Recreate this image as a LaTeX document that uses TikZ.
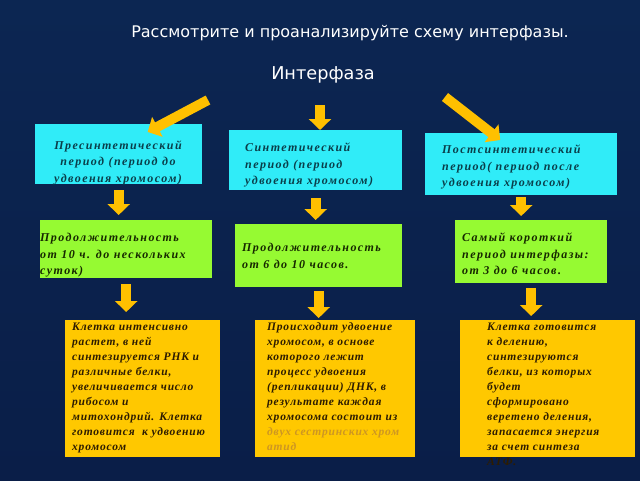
\documentclass[tikz,border=0pt]{standalone}
\usepackage{fontspec}
\newfontfamily\headfont{DejaVu Sans}
\newfontfamily\boxfont{Liberation Serif}[LetterSpace=12]
\newfontfamily\notefont{Liberation Serif}[LetterSpace=7]
\usetikzlibrary{arrows.meta,calc,positioning}

\definecolor{bgtop}{RGB}{12,38,82}
\definecolor{bgmid}{RGB}{30,74,148}
\definecolor{bgbot}{RGB}{10,30,72}
\definecolor{boxcyan}{RGB}{48,236,248}
\definecolor{boxgreen}{RGB}{150,250,50}
\definecolor{boxyellow}{RGB}{255,200,0}
\definecolor{txtcyan}{RGB}{10,62,74}
\definecolor{txtgreen}{RGB}{22,40,0}
\definecolor{txtyellow}{RGB}{45,28,0}
\definecolor{txtfaded}{RGB}{205,150,35}
\definecolor{arrowgold}{RGB}{255,192,0}

\tikzset{
  box/.style={inner sep=0pt, anchor=north west},
  cbox/.style={box, fill=boxcyan},
  gbox/.style={box, fill=boxgreen},
  ybox/.style={box, fill=boxyellow},
  boxtxt/.style={inner sep=0pt, align=left, anchor=north west,
    font=\boxfont\bfseries\itshape\fontsize{12}{16.5}\selectfont},
  smalltxt/.style={boxtxt, text=txtyellow,
    font=\notefont\bfseries\itshape\fontsize{11.5}{15}\selectfont},
  heading/.style={text=white, font=\headfont\fontsize{16}{19}\selectfont},
  blk/.style={draw=arrowgold, line width=10pt, -{Triangle[width=22pt,length=11pt]}},
}

\begin{document}
\begin{tikzpicture}[x=1pt, y=-1pt]
  \useasboundingbox (0,0) rectangle (640,480);
  \fill[top color=bgtop, middle color=bgmid, bottom color=bgbot] (0,0) rectangle (640,480);

  \node[heading] (ttl) at (350,33) {Рассмотрите и проанализируйте схему интерфазы.};
  \node[heading, font=\headfont\fontsize{17.7}{21}\selectfont] (inter) at (323,75) {Интерфаза};

  % periods
  \node[cbox, minimum width=167pt, minimum height=60pt] (pre) at (35,124) {};
  \node[cbox, minimum width=173pt, minimum height=60pt] (syn) at (229,130) {};
  \node[cbox, minimum width=192pt, minimum height=62pt] (post) at (425,133) {};
  \node[boxtxt, text=txtcyan, anchor=north, align=center] (pre-t) at (118,140.5)
    {Пресинтетический\\период (период до\\удвоения хромосом)};
  \node[boxtxt, text=txtcyan] (syn-t) at (245,143)
    {Синтетический\\период (период\\удвоения хромосом)};
  \node[boxtxt, text=txtcyan] (post-t) at (442,145)
    {Постсинтетический\\период( период после\\удвоения хромосом)};

  % duration
  \node[gbox, minimum width=172pt, minimum height=58pt] (dur1) at (40,220) {};
  \node[gbox, minimum width=167pt, minimum height=63pt] (dur2) at (235,224) {};
  \node[gbox, minimum width=152pt, minimum height=63pt] (dur3) at (455,220) {};
  \node[boxtxt, text=txtgreen] (dur1-t) at (40,233)
    {Продолжительность\\от 10 ч. до нескольких\\суток)};
  \node[boxtxt, text=txtgreen] (dur2-t) at (242,243)
    {Продолжительность\\от 6 до 10 часов.};
  \node[boxtxt, text=txtgreen] (dur3-t) at (462,233)
    {Самый короткий\\период интерфазы:\\от 3 до 6 часов.};

  % what happens
  \node[ybox, minimum width=155pt, minimum height=137pt] (res1) at (65,320) {};
  \node[ybox, minimum width=160pt, minimum height=137pt] (res2) at (255,320) {};
  \node[ybox, minimum width=175pt, minimum height=137pt] (res3) at (460,320) {};
  \node[smalltxt] (res1-t) at (72,322.5)
    {Клетка интенсивно\\растет, в ней\\синтезируется РНК и\\различные белки,\\увеличивается число\\рибосом и\\митохондрий. Клетка\\готовится \ к удвоению\\хромосом};
  \node[smalltxt] (res2-t) at (267,322.5)
    {Происходит удвоение\\хромосом, в основе\\которого лежит\\процесс удвоения\\(репликации) ДНК, в\\результате каждая\\хромосома состоит из\\\textcolor{txtfaded}{двух сестринских хром}\\\textcolor{txtfaded}{атид}};
  \node[smalltxt] (res3-t) at (487,322.5)
    {Клетка готовится\\к делению,\\синтезируются\\белки, из которых\\будет\\сформировано\\веретено деления,\\запасается энергия\\за счет синтеза\\АТФ.};

  \coordinate (a1) at (208,100);
  \coordinate (a2) at (320,105);
  \coordinate (a3) at (445,97);
  \draw[blk] (a1) -- ($(pre.north)+(29,8)$);
  \draw[blk] (a2) -- (a2 |- syn.north);
  \draw[blk] (a3) -- ($(post.north)+(-21,7)$);
  \draw[blk, shorten <=6pt, shorten >=5pt] (pre.south) -- (pre.south |- dur1.north);
  \draw[blk, shorten <=8pt, shorten >=4pt] (syn.south) -- (syn.south |- dur2.north);
  \draw[blk, shorten <=2pt, shorten >=4pt] (post.south) -- (post.south |- dur3.north);
  \draw[blk, shorten <=6pt, shorten >=8pt] (dur1.south) -- (dur1.south |- res1.north);
  \draw[blk, shorten <=4pt, shorten >=2pt] (dur2.south) -- (dur2.south |- res2.north);
  \draw[blk, shorten <=5pt, shorten >=4pt] (dur3.south) -- (dur3.south |- res3.north);
\end{tikzpicture}
\end{document}
